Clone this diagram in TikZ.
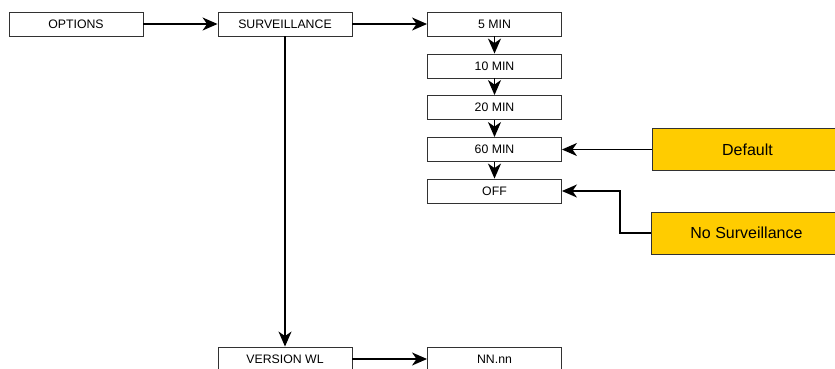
\documentclass[tikz,border=0pt]{standalone}
\usepackage{fontspec}
\setmainfont{Liberation Sans}
\usetikzlibrary{arrows.meta,positioning}
\definecolor{boxline}{RGB}{50,50,50}
\definecolor{noteyellow}{RGB}{255,204,0}

\begin{document}
\begin{tikzpicture}[x=1pt,y=-1pt,
  menu/.style={rectangle,draw=boxline,fill=white,line width=0.9pt,
               minimum width=134pt,minimum height=24pt,inner sep=0pt,
               text height=8.8pt,text depth=0pt,
               font=\fontsize{12.3}{14}\selectfont},
  note/.style={rectangle,draw=boxline,fill=noteyellow,line width=0.9pt,
               minimum width=190pt,minimum height=42pt,inner sep=0pt,
               text height=11.5pt,text depth=0pt,
               font=\fontsize{16}{18}\selectfont},
  ar/.style={-{Stealth[length=15pt,width=13pt,inset=4.5pt]},line width=1.4pt,black}
]
\useasboundingbox (0,0) rectangle (835,368);
\clip (0,0) rectangle (835,368);
\node[menu] (opt)  at (76,24)    {OPTIONS};
\node[menu] (surv) at (285,24)   {SURVEILLANCE};
\node[menu] (m5)   at (494.5,24)  {5 MIN};
\node[menu] (m10)  at (494.5,66)  {10 MIN};
\node[menu] (m20)  at (494.5,107.5) {20 MIN};
\node[menu] (m60)  at (494.5,149.5) {60 MIN};
\node[menu] (off)  at (494.5,191)   {OFF};
\node[menu] (ver)  at (285,359)  {VERSION WL};
\node[menu] (nn)   at (494.5,359) {NN.nn};

\node[note,anchor=west] (dflt)   at (652,149.5) {Default};
\node[note,anchor=west] (nosurv) at (651,233)   {No Surveillance};
\coordinate (bend) at (620,191);

\draw[ar] (opt) -- (surv);
\draw[ar] (surv) -- (m5);
\draw[ar] (m5) -- (m10);
\draw[ar] (m10) -- (m20);
\draw[ar] (m20) -- (m60);
\draw[ar] (m60) -- (off);
\draw[ar] (surv) -- (ver);
\draw[ar] (ver) -- (nn);
\draw[ar] (dflt) -- (m60);
\draw[ar] (nosurv.west) -| (bend) -- (off.east);
\end{tikzpicture}
\end{document}
